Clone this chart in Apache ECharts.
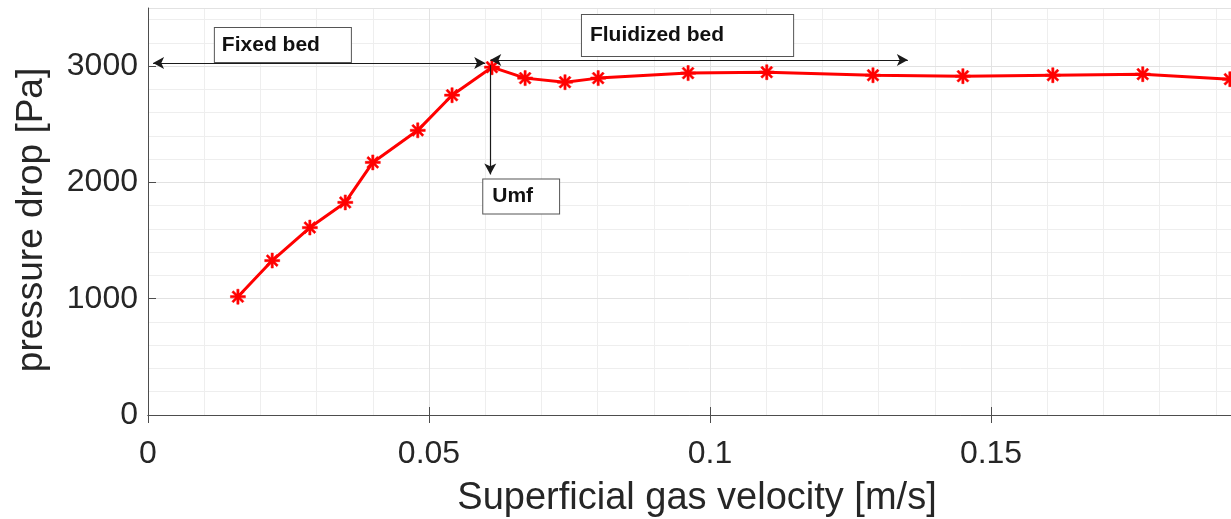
<!DOCTYPE html>
<html>
<head>
<meta charset="utf-8">
<script src="https://cdn.jsdelivr.net/npm/echarts@6/dist/echarts.min.js"></script>
<style>
html,body{margin:0;padding:0;background:#fff;}
#chart{width:1231px;height:519px;}
</style>
</head>
<body>
<div id="chart"></div>
<script>
// ---- data ----
const velocity = [0.0160, 0.0221, 0.0288, 0.0351, 0.0400, 0.0480, 0.0541, 0.0612, 0.0671, 0.0742, 0.0801, 0.0961, 0.1101, 0.1290, 0.1450, 0.1610, 0.1770, 0.1925];
const pressureDrop = [1017, 1328, 1612, 1828, 2172, 2448, 2750, 2991, 2897, 2862, 2897, 2940, 2948, 2922, 2914, 2922, 2931, 2888];
const xTicks = [0, 0.05, 0.1, 0.15];
const yTicks = [0, 1000, 2000, 3000];
const xRange = [0, 0.1927];
const yRange = [0, 3500];
const annotationTexts = ['Fixed bed', 'Fluidized bed', 'Umf'];
const annotationAt = [[0.0240, 3181], [0.0960, 3263], [0.0664, 1879]];
const fixedBedArrow = [[0.0009, 3026], [0.0600, 3026]];
const fluidizedArrow = [[0.0609, 3052], [0.1352, 3052]];
const umfArrow = [[0.0609, 3009], [0.0609, 2069]];

const FONT = '"Liberation Sans", Arial, Helvetica, sans-serif';
const asterisk = 'path://M0,8.5L20,8.5L20,11.5L0,11.5Z M8.5,0L11.5,0L11.5,20L8.5,20Z M3.99,1.868L18.132,16.01L16.01,18.132L1.868,3.99Z M18.132,3.99L3.99,18.132L1.868,16.01L16.01,1.868Z';

const chart = echarts.init(document.getElementById('chart'), null, {renderer: 'canvas'});

const tickFmt = (list) => (v) => {
  const hit = list.find(t => Math.abs(t - v) < 1e-9);
  return hit === undefined ? '' : String(hit);
};

const boxLabel = (pad) => ({
  show: true,
  position: 'inside',
  fontFamily: FONT,
  fontWeight: 'bold',
  fontSize: 21,
  lineHeight: 24,
  color: '#111',
  backgroundColor: '#fff',
  borderColor: '#555',
  borderWidth: 1,
  padding: pad
});

const arrowLine = (pts, syms) => ({
  symbol: syms,
  symbolSize: [9, 11],
  silent: true,
  animation: false,
  label: {show: false},
  lineStyle: {color: '#1a1a1a', width: 1.2, type: 'solid'},
  data: [[{coord: pts[0]}, {coord: pts[1]}]]
});

const hiddenGridAxis = (extra) => Object.assign({
  type: 'value',
  axisLine: {show: false},
  axisTick: {show: false},
  axisLabel: {show: false},
  splitLine: {show: true, lineStyle: {color: '#eeeeee', width: 1}}
}, extra);

const option = {
  animation: false,
  backgroundColor: '#fff',
  grid: {left: 148, top: 8, right: 0, bottom: 104, containLabel: false, outerBoundsMode: 'none'},
  xAxis: [{
    type: 'value', min: xRange[0], max: xRange[1], interval: 0.05,
    name: 'Superficial gas velocity [m/s]',
    nameLocation: 'middle', nameGap: 65,
    nameTextStyle: {fontFamily: FONT, fontSize: 38, color: '#262626', padding: [0, 0, 0, 15]},
    axisLine: {show: true, lineStyle: {color: '#4d4d4d', width: 1}},
    axisTick: {show: true, inside: true, length: 8, lineStyle: {color: '#4d4d4d'}},
    axisLabel: {fontFamily: FONT, fontSize: 32, color: '#262626', margin: 23, formatter: tickFmt(xTicks), showMaxLabel: false},
    splitLine: {show: true, lineStyle: {color: '#e2e2e2', width: 1}},
    z: 2
  }, {
    type: 'value', min: xRange[0], max: xRange[1], interval: 0.05, position: 'top',
    axisLine: {show: true, lineStyle: {color: '#4d4d4d', width: 1}},
    axisTick: {show: true, inside: true, length: 8, lineStyle: {color: '#4d4d4d'}},
    axisLabel: {show: false},
    splitLine: {show: false},
    z: 2
  }, hiddenGridAxis({min: xRange[0], max: xRange[1], interval: 0.01, position: 'bottom', z: 1})],
  yAxis: [{
    type: 'value', min: yRange[0], max: yRange[1], interval: 1000,
    name: 'pressure drop [Pa]',
    nameLocation: 'middle', nameGap: 98, nameRotate: 90,
    nameTextStyle: {fontFamily: FONT, fontSize: 37, color: '#262626', padding: [0, 17, 0, 0]},
    axisLine: {show: true, lineStyle: {color: '#4d4d4d', width: 1}},
    axisTick: {show: true, inside: true, length: 8, lineStyle: {color: '#4d4d4d'}},
    axisLabel: {fontFamily: FONT, fontSize: 32, color: '#262626', margin: 10, formatter: tickFmt(yTicks), showMaxLabel: false},
    splitLine: {show: true, lineStyle: {color: '#e2e2e2', width: 1}},
    z: 2
  }, hiddenGridAxis({min: yRange[0], max: yRange[1], interval: 200, position: 'left', z: 1})],
  series: [{
    type: 'line',
    xAxisIndex: 0, yAxisIndex: 0,
    data: velocity.map((v, i) => [v, pressureDrop[i]]),
    lineStyle: {color: '#ff0000', width: 3},
    itemStyle: {color: '#ff0000', borderColor: '#ff0000', borderWidth: 0.5},
    symbol: asterisk,
    symbolSize: 15,
    showSymbol: true,
    clip: false,
    z: 3
  }, {
    type: 'line', data: [], silent: true, z: 4, xAxisIndex: 0, yAxisIndex: 0,
    markLine: arrowLine(fixedBedArrow, ['arrow', 'arrow'])
  }, {
    type: 'line', data: [], silent: true, z: 4, xAxisIndex: 0, yAxisIndex: 0,
    markLine: arrowLine(fluidizedArrow, ['arrow', 'arrow'])
  }, {
    type: 'line', data: [], silent: true, z: 4, xAxisIndex: 0, yAxisIndex: 0,
    markLine: arrowLine(umfArrow, ['none', 'arrow'])
  }, {
    type: 'line', data: [], silent: true, z: 5, xAxisIndex: 0, yAxisIndex: 0,
    markPoint: {
      symbol: 'rect', symbolSize: 1, silent: true, animation: false,
      itemStyle: {color: 'rgba(0,0,0,0)'},
      data: [
        {coord: annotationAt[0], value: annotationTexts[0], label: Object.assign(boxLabel([5, 31, 5, 7]), {formatter: annotationTexts[0]})},
        {coord: annotationAt[1], value: annotationTexts[1], label: Object.assign(boxLabel([5, 69, 12, 8]), {formatter: annotationTexts[1]})},
        {coord: annotationAt[2], value: annotationTexts[2], label: Object.assign(boxLabel([5, 26, 5, 9]), {formatter: annotationTexts[2]})}
      ]
    }
  }]
};
chart.setOption(option);
</script>
</body>
</html>
